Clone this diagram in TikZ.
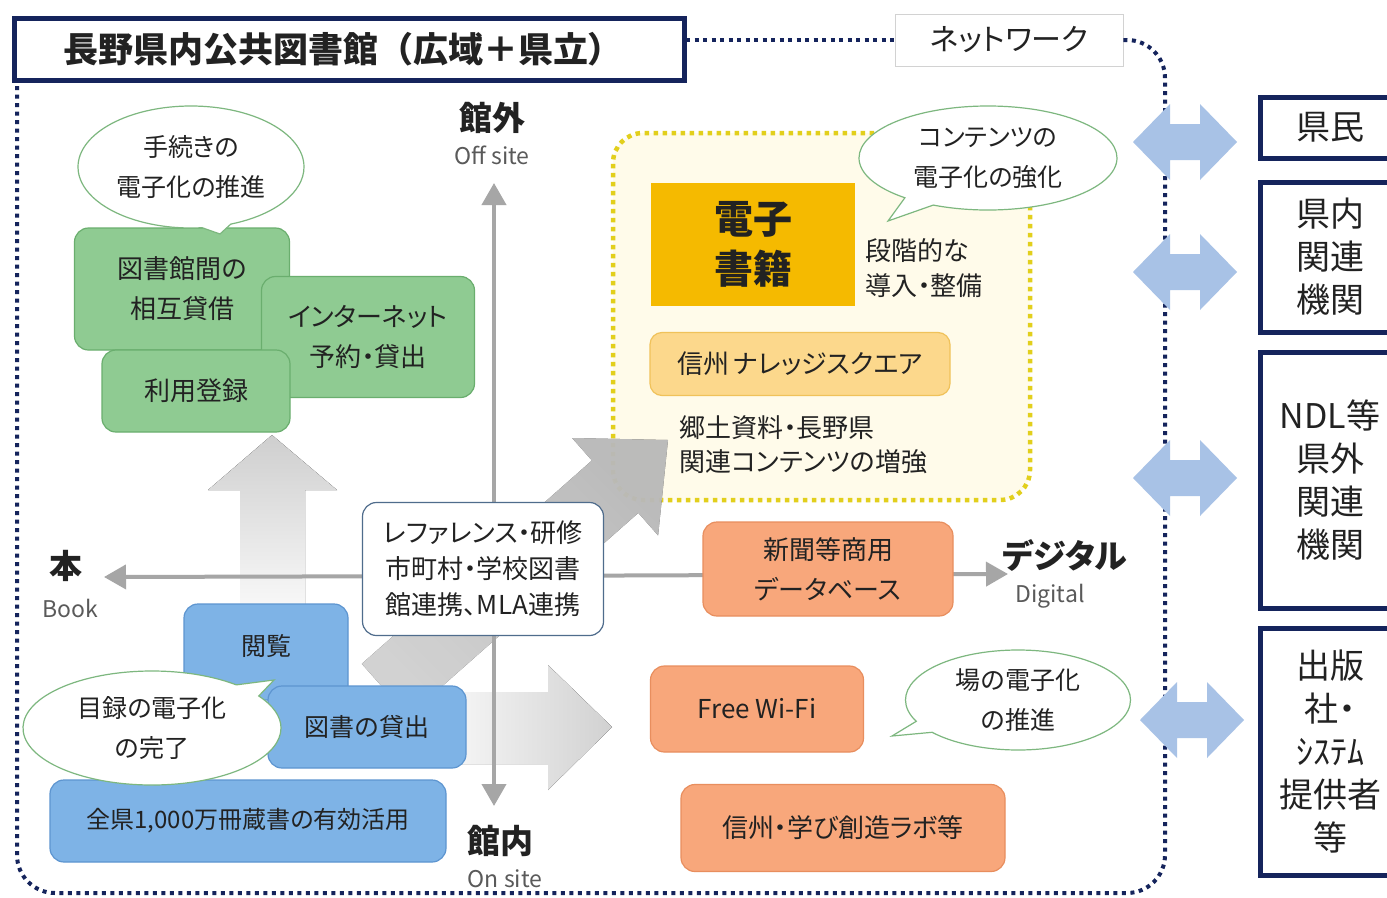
\documentclass[tikz,border=0pt]{standalone}
\usepackage{fontspec}
\setmainfont{Noto Sans CJK JP}[RawFeature={+palt}]
\newfontfamily\jpfull{Noto Sans CJK JP}
\usetikzlibrary{shapes.callouts,shapes.geometric,arrows.meta}
\definecolor{navy}{HTML}{15245C}
\definecolor{txt}{HTML}{222222}
\definecolor{lbl}{HTML}{5A5A5A}
\definecolor{axisgray}{HTML}{A6A6A6}
\definecolor{gfill}{HTML}{8FCB92}
\definecolor{gborder}{HTML}{6AAE6E}
\definecolor{bfill}{HTML}{7EB3E6}
\definecolor{bborder}{HTML}{5D95D0}
\definecolor{ofill}{HTML}{F8A77B}
\definecolor{oborder}{HTML}{E88E5E}
\definecolor{ksfill}{HTML}{FCD88C}
\definecolor{ksborder}{HTML}{F0C25A}
\definecolor{ebookfill}{HTML}{F5BA00}
\definecolor{ydot}{HTML}{E2CF1C}
\definecolor{cream}{HTML}{FFFBEA}
\definecolor{bubbleline}{HTML}{7DB77F}
\definecolor{refline}{HTML}{4F6C8C}
\definecolor{arrowblue}{HTML}{A8C2E6}
\newcommand\fs[2]{\fontsize{#1pt}{#2pt}\selectfont}
\begin{document}
\begin{tikzpicture}[x=1pt,y=-1pt,
  every node/.style={text=txt},
  netline/.style={draw=navy,line width=4pt,dash pattern=on 4pt off 4.5pt},
  axisline/.style={draw=axisgray,line width=4pt,-{Triangle[length=22pt,width=24pt]}},
  gbox/.style={draw=gborder,fill=gfill,rounded corners=14pt,line width=1.2pt,align=center,font=\fs{26}{40}},
  bbox/.style={draw=bborder,fill=bfill,rounded corners=14pt,line width=1.2pt,align=center,font=\fs{25}{40}},
  obox/.style={draw=oborder,fill=ofill,rounded corners=14pt,line width=1.2pt,align=center,font=\fs{26}{40}},
  bubble/.style={ellipse callout,draw=bubbleline,fill=white,line width=1.2pt,align=center,font=\fs{25}{40},inner sep=0pt},
  rbox/.style={draw=navy,fill=white,line width=5pt,align=center,font=\fs{34}{43},minimum width=140pt},
  jlabel/.style={font=\bfseries\fs{33}{40}},
  elabel/.style={font=\fs{23}{26},text=lbl},
  plain/.style={align=left,font=\fs{26}{35}},
  dblarrow/.pic={\fill[arrowblue] (-52,0) -- (-15,-38) -- (-15,-18) -- (15,-18) -- (15,-38) -- (52,0) -- (15,38) -- (15,18) -- (-15,18) -- (-15,38) -- cycle;}
]
\useasboundingbox (0,0) rectangle (1387,897);
\fill[white] (0,0) rectangle (1387,897);

% yellow region
\node[draw=ydot,fill=cream,line width=4.5pt,dash pattern=on 4.5pt off 4.5pt,rounded corners=30pt,minimum width=417pt,minimum height=367pt] (yreg) at (821.5,316.5) {};

% network dotted line
\node[draw=gray!35,fill=white,line width=0.8pt,minimum width=228pt,minimum height=52pt,font=\fs{30}{34}] (netlbl) at (1009,40) {ネットワーク};
\coordinate (nA) at (686,40);
\draw[netline] (nA) -- (netlbl.west);
\draw[netline,rounded corners=38pt] (netlbl.east) -- (1165,40) -- (1165,893) -- (17,893) -- (17,82);

% big gray arrows
\fill[top color=gray!38,bottom color=gray!5] (240,610) -- (240,490) -- (208,490) -- (272,435) -- (337,490) -- (305,490) -- (305,610) -- cycle;
\fill[left color=gray!4,right color=gray!26,shading angle=135,opacity=0.8] (408.2,716.2) -- (361.8,663.8) -- (591.9,460.5) -- (572.1,438.0) -- (668,440) -- (658.1,535.4) -- (638.3,512.9) -- cycle;
\fill[left color=gray!5,right color=gray!36] (440,692) -- (548,692) -- (548,665) -- (612,727) -- (548,790) -- (548,764) -- (440,764) -- cycle;

% axes
\coordinate (origin) at (494,576);
\coordinate (tipUp) at (494,183);
\coordinate (tipDown) at (494,806);
\coordinate (tipLeft) at (104,577);
\coordinate (tipRight) at (1008,574);
\draw[axisline] (origin) -- (tipUp);
\draw[axisline] (origin) -- (tipDown);
\draw[axisline] (origin) -- (tipLeft);
\draw[axisline] (origin) -- (tipRight);

\node[jlabel] (offJ) at (492,118) {館外};
\node[elabel] (offE) at (492,155) {Off site};
\node[jlabel] (onJ) at (500,841) {館内};
\node[elabel] (onE) at (505,879) {On site};
\node[jlabel] (bookJ) at (66,566) {本};
\node[elabel] (bookE) at (70,608) {Book};
\node[jlabel] (digJ) at (1065,555) {デジタル};
\node[elabel] (digE) at (1050,596) {Digital};

% green boxes
\node[gbox,minimum width=215pt,minimum height=122pt] (g1) at (182,289) {図書館間の\\相互貸借};
\node[gbox,minimum width=213pt,minimum height=121pt] (g2) at (368,337) {インターネット\\予約・貸出};
\node[gbox,minimum width=188pt,minimum height=82pt] (g3) at (196,391) {利用登録};
\node[bubble,minimum width=226pt,minimum height=122pt,callout absolute pointer={(220,234)}] (b1) at (191,167) {手続きの\\電子化の推進};

% blue boxes
\node[bbox,minimum width=164pt,minimum height=96pt,text depth=14pt] (u1) at (266,652) {閲覧};
\node[bbox,minimum width=198pt,minimum height=82pt] (u2) at (367,727) {図書の貸出};
\node[bbox,minimum width=396pt,minimum height=82pt,font=\fs{24}{30}] (u3) at (248,821) {全県1,000万冊蔵書の有効活用};
\node[bubble,minimum width=258pt,minimum height=114pt,callout absolute pointer={(274,680)}] (b2) at (152,728) {目録の電子化\\の完了};

% center box
\node[draw=refline,fill=white,line width=1.2pt,rounded corners=14pt,minimum width=241pt,minimum height=133pt,align=center,font=\fs{26}{36}] (ref) at (483,569) {レファレンス・研修\\市町村・学校図書\\館連携、MLA連携};

% digital contents
\node[fill=ebookfill,minimum width=204pt,minimum height=123pt,align=center,font=\bfseries\fs{39}{50}] (ebook) at (753,244) {電子\\書籍};
\node[plain,anchor=west] (dankai) at (862,268) {段階的な\\導入・整備};
\node[draw=ksborder,fill=ksfill,line width=1.2pt,rounded corners=12pt,minimum width=300pt,minimum height=63pt,font=\fs{26}{30}] (ks) at (800,364) {信州\,ナレッジスクエア};
\node[plain,anchor=west,font=\fs{26}{34}] (kyodo) at (676,445) {郷土資料・長野県\\関連コンテンツの増強};
\node[bubble,minimum width=258pt,minimum height=104pt,callout absolute pointer={(888,221)}] (b3) at (988,158) {コンテンツの\\電子化の強化};

% orange boxes
\node[obox,minimum width=250pt,minimum height=94pt] (o1) at (828,569) {新聞等商用\\データベース};
\node[obox,minimum width=213pt,minimum height=86pt] (o2) at (757,709) {Free Wi-Fi};
\node[obox,minimum width=324pt,minimum height=87pt] (o3) at (843,828) {信州・学び創造ラボ等};
\node[bubble,minimum width=225pt,minimum height=100pt,callout absolute pointer={(892,736)}] (b4) at (1018,700) {場の電子化\\の推進};

% right boxes
\node[rbox,minimum height=61pt] (r1) at (1330,127.5) {県民};
\node[rbox,minimum height=150pt] (r2) at (1330,257) {県内\\関連\\機関};
\node[rbox,minimum height=256pt] (r3) at (1330,480) {NDL等\\県外\\関連\\機関};
\node[rbox,minimum height=247pt] (r4) at (1330,751.5) {出版\\社・\\ｼｽﾃﾑ\\提供者\\等};

% double arrows
\pic at (1185,142) {dblarrow};
\pic at (1185,272) {dblarrow};
\pic at (1185,478) {dblarrow};
\pic at (1192,720) {dblarrow};

% title
\node[draw=navy,fill=white,line width=5pt,minimum width=670pt,minimum height=62pt,font=\jpfull\bfseries\fs{35}{40}] (title) at (349,49) {\hspace*{-12pt}長野県内公共図書館（広域＋県立）};
\end{tikzpicture}
\end{document}
